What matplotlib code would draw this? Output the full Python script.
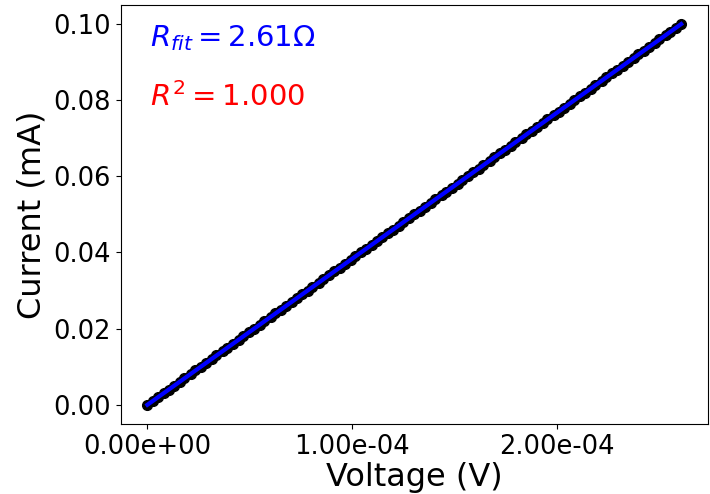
import numpy as np
import matplotlib.pyplot as plt
from matplotlib.ticker import FormatStrFormatter

# measured voltage (uV) and current (mA)
voltage_uV = [0.0, 2.8, 5.0, 7.9, 10.6, 12.9, 15.8, 18.1, 21.1, 23.4,
              26.3, 28.5, 31.6, 33.7, 36.8, 39.0, 41.9, 44.6, 46.8, 49.9,
              52.1, 55.0, 57.2, 60.3, 62.4, 65.5, 67.6, 70.6, 73.2, 75.4,
              78.5, 80.7, 83.8, 86.0, 88.9, 91.1, 94.2, 96.4, 99.4, 101.6,
              104.6, 106.8, 109.8, 112.4, 114.6, 117.7, 119.9, 122.8, 125.0, 128.1,
              130.3, 133.3, 135.5, 138.5, 140.7, 143.8, 146.0, 148.9, 151.6, 153.8,
              156.8, 159.0, 162.0, 164.2, 167.3, 169.5, 172.4, 174.6, 177.7, 179.9,
              182.9, 185.1, 188.1, 190.3, 193.3, 195.5, 198.5, 201.0, 203.4, 206.4,
              208.6, 211.6, 213.8, 216.8, 219.0, 222.1, 224.3, 227.2, 229.4, 232.5,
              234.7, 237.6, 239.8, 242.9, 245.1, 248.0, 250.3, 253.3, 255.5, 258.5,
              260.9]
current_mA = [0.000, 0.001, 0.002, 0.003, 0.004, 0.005, 0.006, 0.007, 0.008, 0.009,
              0.010, 0.011, 0.012, 0.013, 0.014, 0.015, 0.016, 0.017, 0.018, 0.019,
              0.020, 0.021, 0.022, 0.023, 0.024, 0.025, 0.026, 0.027, 0.028, 0.029,
              0.030, 0.031, 0.032, 0.033, 0.034, 0.035, 0.036, 0.037, 0.038, 0.039,
              0.040, 0.041, 0.042, 0.043, 0.044, 0.045, 0.046, 0.047, 0.048, 0.049,
              0.050, 0.051, 0.052, 0.053, 0.054, 0.055, 0.056, 0.057, 0.058, 0.059,
              0.060, 0.061, 0.062, 0.063, 0.064, 0.065, 0.066, 0.067, 0.068, 0.069,
              0.070, 0.071, 0.072, 0.073, 0.074, 0.075, 0.076, 0.077, 0.078, 0.079,
              0.080, 0.081, 0.082, 0.083, 0.084, 0.085, 0.086, 0.087, 0.088, 0.089,
              0.090, 0.091, 0.092, 0.093, 0.094, 0.095, 0.096, 0.097, 0.098, 0.099,
              0.100]
r_fit = 2.61
r_squared = 1.000

V = np.array(voltage_uV) * 1e-6
I = np.array(current_mA)

# linear fit of I vs V
slope, intercept = np.polyfit(V, I, 1)
V_fit = np.array([V.min(), V.max()])
I_fit = slope * V_fit + intercept

fig, ax = plt.subplots(figsize=(7.1, 4.94), dpi=100)
fig.subplots_adjust(left=0.170, right=0.997, top=0.990, bottom=0.142)

ax.plot(V, I, 'o', color='black', markersize=7)
ax.plot(V_fit, I_fit, '-', color='blue', linewidth=3)

ax.xaxis.set_major_formatter(FormatStrFormatter('%.2e'))
ax.yaxis.set_major_formatter(FormatStrFormatter('%.2f'))
ax.set_xticks([0, 1e-4, 2e-4])
ax.tick_params(labelsize=18.5)

ax.set_xlabel('Voltage (V)', fontsize=23, labelpad=2)
ax.set_ylabel('Current (mA)', fontsize=23)

ax.text(0.05, 0.92, r'$R_{fit} = %.2f\Omega$' % r_fit, transform=ax.transAxes,
        color='blue', fontsize=21, va='center')
ax.text(0.05, 0.78, r'$R^2 = %.3f$' % r_squared, transform=ax.transAxes,
        color='red', fontsize=21, va='center')

fig.savefig('out.png', dpi=100)
